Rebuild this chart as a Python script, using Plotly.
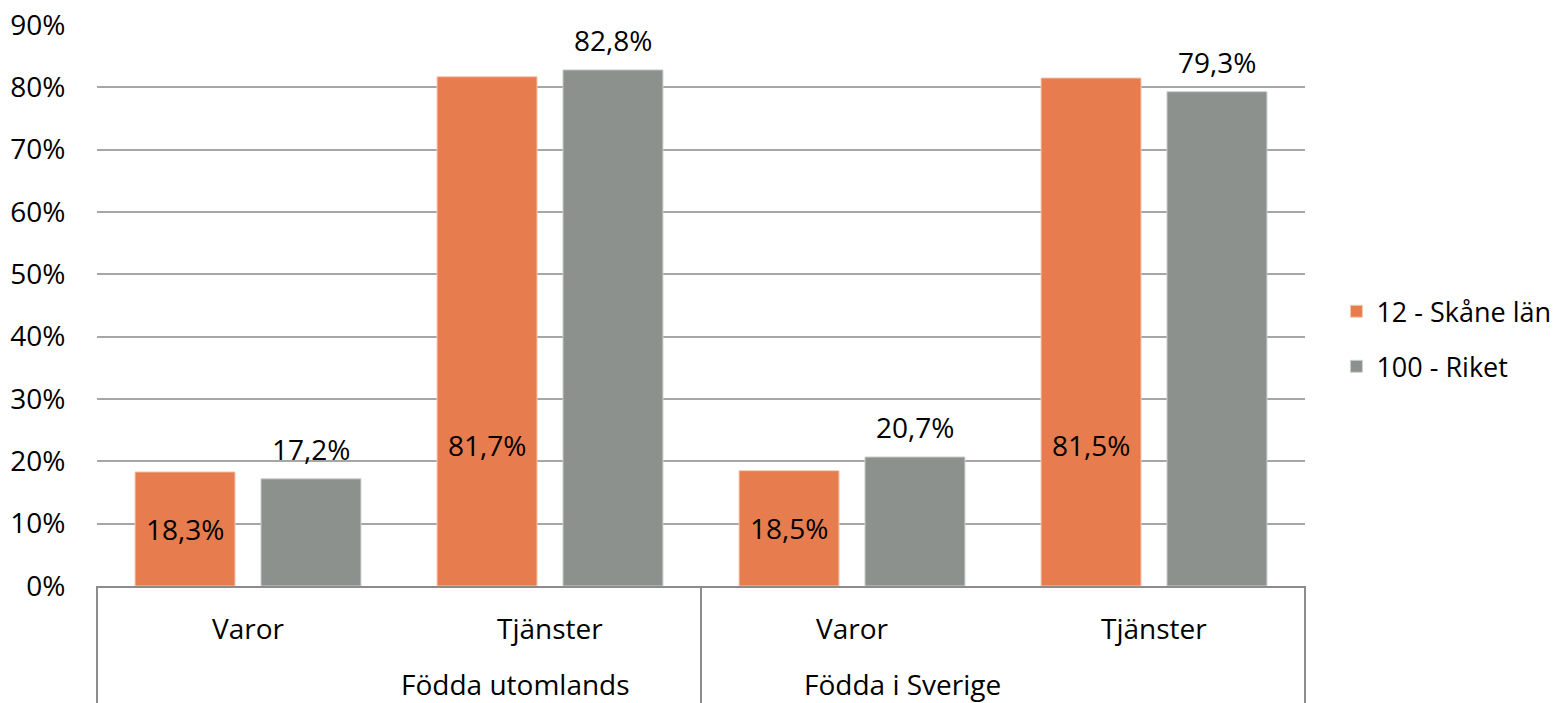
import plotly.graph_objects as go

groups = ["Födda utomlands", "Födda utomlands", "Födda i Sverige", "Födda i Sverige"]
sectors = ["Varor", "Tjänster", "Varor", "Tjänster"]
group_names = ["Födda utomlands", "Födda i Sverige"]
skane = [18.3, 81.7, 18.5, 81.5]
riket = [17.2, 82.8, 20.7, 79.3]
series_names = ["12 - Skåne län", "100 - Riket"]
y_ticks = [0, 10, 20, 30, 40, 50, 60, 70, 80, 90]

ORANGE = "#E77C4E"
GRAY = "#8C918E"
LINE = "#8C8C8C"
FONT = "Open Sans, sans-serif"
FS = 28

def fmt(v):
    return f"{v:.1f}".replace(".", ",") + "%"

fig = go.Figure()
fig.add_trace(go.Bar(
    x=[groups, sectors], y=skane, name=series_names[0], legendgroup="a",
    marker=dict(color=ORANGE, line=dict(width=1, color="#F6C9B5")), hoverinfo="skip",
))
fig.add_trace(go.Bar(
    x=[groups, sectors], y=riket, name=series_names[1], legendgroup="b",
    marker=dict(color=GRAY, line=dict(width=1, color="#CDD0CE")), hoverinfo="skip",
))

# Orange labels inside the bars (lower part, as in the reference)
for g, s, v in zip(groups, sectors, skane):
    ylab = v / 2 if v < 40 else v * 0.277
    fig.add_annotation(
        x=[g, s], y=ylab, text=fmt(v), showarrow=False,
        xshift=-63, font=dict(size=FS, color="black", family=FONT),
    )
# Gray labels above the bars
for g, s, v in zip(groups, sectors, riket):
    fig.add_annotation(
        x=[g, s], y=v, text=fmt(v), showarrow=False, yanchor="bottom",
        xshift=63, yshift=9, font=dict(size=FS, color="black", family=FONT),
    )

# Category labels (inner level)
for g, s in zip(groups, sectors):
    fig.add_annotation(
        x=[g, s], y=-0.075, yref="paper", text=s, showarrow=False,
        yanchor="middle", font=dict(size=FS, color="black", family=FONT),
    )
# Group labels (outer level)
for i, gname in enumerate(group_names):
    fig.add_annotation(
        x=0.25 + 0.5 * i, xref="paper", y=-0.175, yref="paper", text=gname,
        showarrow=False, yanchor="middle",
        font=dict(size=FS, color="black", family=FONT),
    )
# Divider lines
for xp in [0, 0.5, 1]:
    fig.add_shape(type="line", xref="paper", yref="paper", x0=xp, x1=xp,
                  y0=0, y1=-0.21, line=dict(color=LINE, width=2))

fig.update_layout(
    width=1558, height=703,
    margin=dict(l=97, r=253, t=25, b=117, autoexpand=False),
    paper_bgcolor="white", plot_bgcolor="white",
    barmode="group", bargap=0.166, bargroupgap=0.206,
    font=dict(family=FONT, size=FS, color="black"),
    legend=dict(
        x=1.026, y=0.44, xanchor="left", yanchor="middle",
        font=dict(size=27, family=FONT), tracegroupgap=17,
    ),
    showlegend=True,
)
fig.update_yaxes(
    range=[0, 90], tickvals=y_ticks, ticktext=[f"{v}%" for v in y_ticks],
    showgrid=True, gridcolor="#A6A6A6", gridwidth=2,
    zeroline=False, showline=False, ticks="outside", ticklen=25,
    tickcolor="rgba(0,0,0,0)", tickfont=dict(size=FS, family=FONT),
    ticklabeloverflow="allow", automargin=False,
)
fig.update_xaxes(
    type="multicategory", showline=True, linecolor=LINE, linewidth=2,
    showticklabels=False, showdividers=False, ticks="", automargin=False,
)

fig.write_html(
    "out.html",
    config={"displayModeBar": False},
    post_script="document.body.style.margin='0';document.body.style.overflow='hidden';",
)
